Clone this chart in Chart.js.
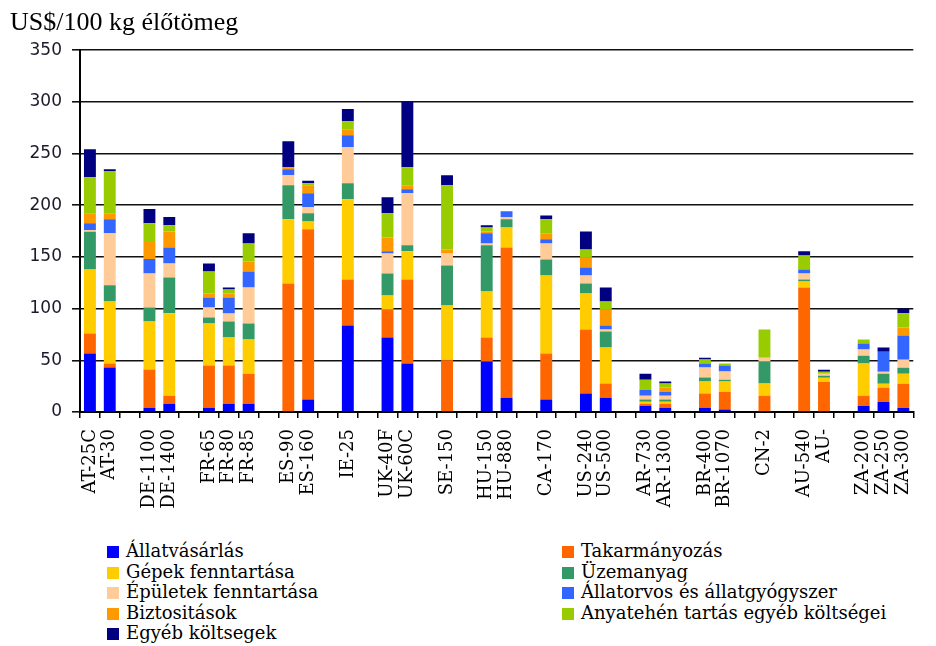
<!DOCTYPE html>
<html>
<head>
<meta charset="utf-8">
<script src="https://cdn.jsdelivr.net/npm/chart.js@4.4.1/dist/chart.umd.min.js"></script>
<style>
  html, body { margin: 0; padding: 0; background: #fff; }
  #wrap { position: relative; width: 936px; height: 646px; }
  #box { position: absolute; left: 0; top: 0; width: 936px; height: 520px; }
  #legend { position: absolute; left: 0; top: 541px; width: 936px; }
  .col { position: absolute; top: 0; }
  .item { height: 20.5px; line-height: 20.5px; font-family: "DejaVu Serif", serif; font-size: 18px; color: #000; white-space: nowrap; }
  .item span.sw { display: inline-block; width: 12px; height: 12px; margin-right: 7px; vertical-align: -1px; }
</style>
</head>
<body>
<div id="wrap">
  <div id="box"><canvas id="costChart"></canvas></div>
  <div id="legend"></div>
</div>
<script>
// data ----------------------------------------------------------------
var categories = ['AT-25C', 'AT-30', '', 'DE-1100', 'DE-1400', '', 'FR-65', 'FR-80', 'FR-85', '',
    'ES-90', 'ES-160', '', 'IE-25', '', 'UK-40F', 'UK-60C', '', 'SE-150', '', 'HU-150', 'HU-880', '',
    'CA-170', '', 'US-240', 'US-500', '', 'AR-730', 'AR-1300', '', 'BR-400', 'BR-1070', '', 'CN-2', '',
    'AU-540', 'AU-', '', 'ZA-200', 'ZA-250', 'ZA-300'];

var yTicks = [0, 50, 100, 150, 200, 250, 300, 350];

var allatvasarlas = [56.5, 43, null, 4.2, 8.1, null, 4.2, 8.1, 8.1, null, 0, 12, null, 83.7, null, 72, 46.8, null, 0, null, 48.8, 13.9, null, 12, null, 17.8, 13.9, null, 6.1, 4.2, null, 4.2, 2.3, null, 0, null, 0, 0, null, 5.8, 9.7, 3.9];
var takarmanyozas = [19.4, 3.8, null, 36.8, 7.7, null, 40.7, 36.8, 29, null, 124.4, 164.7, null, 44.5, null, 27.2, 81.4, null, 50.1, null, 23.2, 145.3, null, 44.5, null, 62, 13.6, null, 2, 3.9, null, 13.6, 17.4, null, 15.8, null, 120.5, 29.2, null, 9.8, 13.7, 23.4];
var gepek = [62, 60.1, null, 46.5, 79.8, null, 40.7, 27.1, 33, null, 62, 7.7, null, 77.5, null, 13.5, 27.2, null, 52.9, null, 44.6, 19.4, null, 75.6, null, 34.9, 34.8, null, 1.9, 1.9, null, 11.6, 9.7, null, 11.7, null, 5.8, 3.9, null, 31.2, 3.9, 9.7];
var uzemanyag = [36.5, 15.8, null, 13.6, 34.6, null, 5.8, 15.5, 15.5, null, 32.9, 7.8, null, 15.6, null, 21.3, 5.8, null, 38.8, null, 44.6, 7.8, null, 15.5, null, 9.7, 15.5, null, 2, 2, null, 3.9, 1.9, null, 21.3, null, 1.9, 2, null, 7.7, 9.7, 5.9];
var epuletek = [1.6, 50.1, null, 32.9, 13.5, null, 9.7, 7.8, 34.9, null, 9.7, 5.8, null, 34.8, null, 19.4, 50.4, null, 11.6, null, 1.9, 1.9, null, 15.5, null, 7.7, 2, null, 3.8, 3.8, null, 9.7, 7.8, null, 3.8, null, 5.8, 1.9, null, 5.9, 2, 7.7];
var allatorvos = [6.5, 13.6, null, 13.9, 15.5, null, 9.7, 15.5, 15.5, null, 5.8, 13.6, null, 11.7, null, 2, 3.8, null, 0, null, 9.7, 5.8, null, 3.9, null, 7.8, 3.9, null, 5.8, 3.9, null, 3.8, 5.8, null, 0, null, 3.9, 0, null, 5.8, 19.4, 23.4];
var biztositasok = [9.7, 5.8, null, 17.5, 15.5, null, 3.9, 3.9, 9.7, null, 2, 7.7, null, 5.8, null, 13.5, 3.9, null, 3.9, null, 1.9, 0, null, 5.8, null, 9.6, 15.5, null, 0, 3.9, null, 0, 0, null, 0, null, 0, 0, null, 0, 0, 7.8];
var anyatehen = [34.8, 41, null, 17.1, 5.9, null, 21.3, 3.8, 17.4, null, 0, 2, null, 7.7, null, 23.3, 17.5, null, 62, null, 3.9, 0, null, 13.6, null, 7.8, 7.7, null, 9.7, 3.9, null, 3.9, 1.9, null, 27.2, null, 13.6, 2, null, 3.9, 0, 13.7];
var egyeb = [27.2, 1.6, null, 13.9, 8, null, 7.7, 2, 9.7, null, 25.2, 2.5, null, 11.7, null, 15.5, 63.3, null, 9.7, null, 2, 0, null, 3.8, null, 17.4, 13.6, null, 5.8, 1.9, null, 1.9, 0, null, 0, null, 3.9, 1.9, null, 0, 3.9, 4.5];

var seriesNames = ['Állatvásárlás', 'Takarmányozás', 'Gépek fenntartása', 'Üzemanyag',
    'Épületek fenntartása', 'Állatorvos és állatgyógyszer', 'Biztositások',
    'Anyatehén tartás egyéb költségei', 'Egyéb költsegek'];
var seriesData = [allatvasarlas, takarmanyozas, gepek, uzemanyag, epuletek, allatorvos, biztositasok, anyatehen, egyeb];
var seriesColors = ['#0000ff', '#ff6600', '#ffcc00', '#339966', '#ffcc99', '#3366ff', '#ff9900', '#99cc00', '#000080'];

// chart ---------------------------------------------------------------
var datasets = seriesNames.map(function (name, i) {
    return {
        label: name,
        data: seriesData[i],
        backgroundColor: seriesColors[i],
        borderWidth: 0,
        barPercentage: 0.6,
        categoryPercentage: 1
    };
});

var costChart = new Chart(document.getElementById('costChart'), {
    type: 'bar',
    data: { labels: categories, datasets: datasets },
    options: {
        responsive: true,
        maintainAspectRatio: false,
        animation: false,
        layout: { padding: { left: 10, right: 4, top: 0, bottom: 8 } },
        plugins: {
            legend: { display: false },
            tooltip: { enabled: false },
            title: {
                display: true,
                text: 'US$/100 kg élőtömeg',
                align: 'start',
                color: '#000',
                font: { family: '"Liberation Serif", serif', size: 26, weight: 'normal' },
                padding: { top: 8, bottom: 11 }
            }
        },
        scales: {
            x: {
                stacked: true,
                afterFit: function (scale) { scale.height = 100; },
                grid: { drawOnChartArea: false, drawTicks: true, tickLength: 6, color: '#000', lineWidth: 1.5 },
                border: { display: true, color: '#000', width: 2 },
                ticks: {
                    autoSkip: false,
                    maxRotation: 90,
                    minRotation: 90,
                    padding: 11,
                    color: '#000',
                    font: { family: '"DejaVu Serif", serif', size: 18 }
                }
            },
            y: {
                stacked: true,
                min: 0,
                max: 350,
                afterFit: function (scale) { scale.width = 70; },
                afterBuildTicks: function (scale) {
                    scale.ticks = yTicks.map(function (v) { return { value: v }; });
                },
                grid: { color: '#111', lineWidth: 1.6, tickLength: 8, drawTicks: true },
                border: { display: true, color: '#000', width: 2 },
                ticks: {
                    padding: 10,
                    color: '#1a1a2a',
                    font: { family: '"DejaVu Sans", sans-serif', size: 17 }
                }
            }
        }
    }
});

// legend in two columns, built from the datasets
var legendEl = document.getElementById('legend');
var leftCol = document.createElement('div');
var rightCol = document.createElement('div');
leftCol.className = 'col'; leftCol.style.left = '107px';
rightCol.className = 'col'; rightCol.style.left = '562px';
legendEl.appendChild(leftCol);
legendEl.appendChild(rightCol);
costChart.data.datasets.forEach(function (ds, i) {
    var row = document.createElement('div');
    row.className = 'item';
    var sw = document.createElement('span');
    sw.className = 'sw';
    sw.style.background = ds.backgroundColor;
    row.appendChild(sw);
    row.appendChild(document.createTextNode(ds.label));
    (i % 2 === 0 ? leftCol : rightCol).appendChild(row);
});
</script>
</body>
</html>
